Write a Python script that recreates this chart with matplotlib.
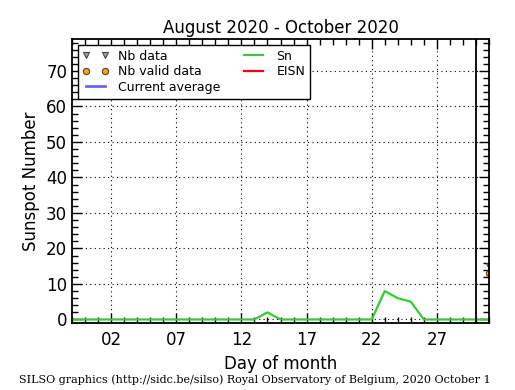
import matplotlib
matplotlib.use("Agg")
import matplotlib.pyplot as plt
from matplotlib.ticker import MultipleLocator, FixedLocator

# Data
days = list(range(-1, 32))
sn = [0, 0, 0, 0, 0, 0, 0, 0, 0, 0, 0, 0, 0, 0, 0,   # days -1..13
      2,                                             # day 14
      0, 0, 0, 0, 0, 0, 0, 0,                         # days 15..22
      8, 6, 5,                                       # days 23..25
      0, 0, 0, 0, 0, 0]                              # days 26..31
nb_days = [31]
nb_data = [15]
nb_valid = [13]
cur_day = 30
xticks = [2, 7, 12, 17, 22, 27]
xticklabels = ["02", "07", "12", "17", "22", "27"]
yticks = [0, 10, 20, 30, 40, 50, 60, 70]

fig = plt.figure(figsize=(5.15, 3.90), dpi=100)
ax = fig.add_axes([72/515, 67/390, 417/515, 284/390])

ax.plot(nb_days, nb_data, linestyle='none', marker='v', color='#a0a0a0',
        markeredgecolor='#444444', markersize=4.5, markeredgewidth=0.8,
        label='Nb data', clip_on=True)
ax.plot(nb_days, nb_valid, linestyle='none', marker='o', color='#ffa500',
        markeredgecolor='#444444', markersize=4.5, markeredgewidth=0.8,
        label='Nb valid data', clip_on=True)
ax.plot([], [], color='#6666ff', lw=2, label='Current average')
ax.plot(days, sn, color='#33cc33', lw=1.6, label='Sn')
ax.plot([], [], color='red', lw=1.6, label='EISN')
ax.axvline(cur_day, color='black', lw=1.3)

ax.set_xlim(-1, 31)
ax.set_ylim(-1, 79)
ax.xaxis.set_major_locator(FixedLocator(xticks))
ax.set_xticklabels(xticklabels)
ax.xaxis.set_minor_locator(MultipleLocator(1))
ax.yaxis.set_major_locator(FixedLocator(yticks))
ax.yaxis.set_minor_locator(MultipleLocator(2))
ax.tick_params(which='both', direction='in', top=True, right=True, labelsize=12)
ax.tick_params(which='major', length=7, width=1)
ax.tick_params(which='minor', length=4, width=1)
ax.tick_params(axis='x', pad=6)
for s in ax.spines.values():
    s.set_linewidth(1.3)
ax.grid(True, which='major', color='black', linestyle=(0, (1, 3)), lw=0.8)

ax.set_title('August 2020 - October 2020', fontsize=12, pad=4)
ax.set_xlabel('Day of month', fontsize=12)
ax.set_ylabel('Sunspot Number', fontsize=12)

leg = ax.legend(loc='upper left', ncol=2, fontsize=9, numpoints=2,
                fancybox=False, framealpha=1, edgecolor='black',
                borderaxespad=0.45, columnspacing=1.6, handlelength=2.1,
                handletextpad=0.75, labelspacing=0.2, borderpad=0.4)
leg.get_frame().set_linewidth(1)

fig.text(0.494, 0.012, 'SILSO graphics (http://sidc.be/silso) Royal Observatory of Belgium, 2020 October 1',
         ha='center', va='bottom', fontsize=8, family='DejaVu Serif')

fig.savefig('out.png', dpi=100)
